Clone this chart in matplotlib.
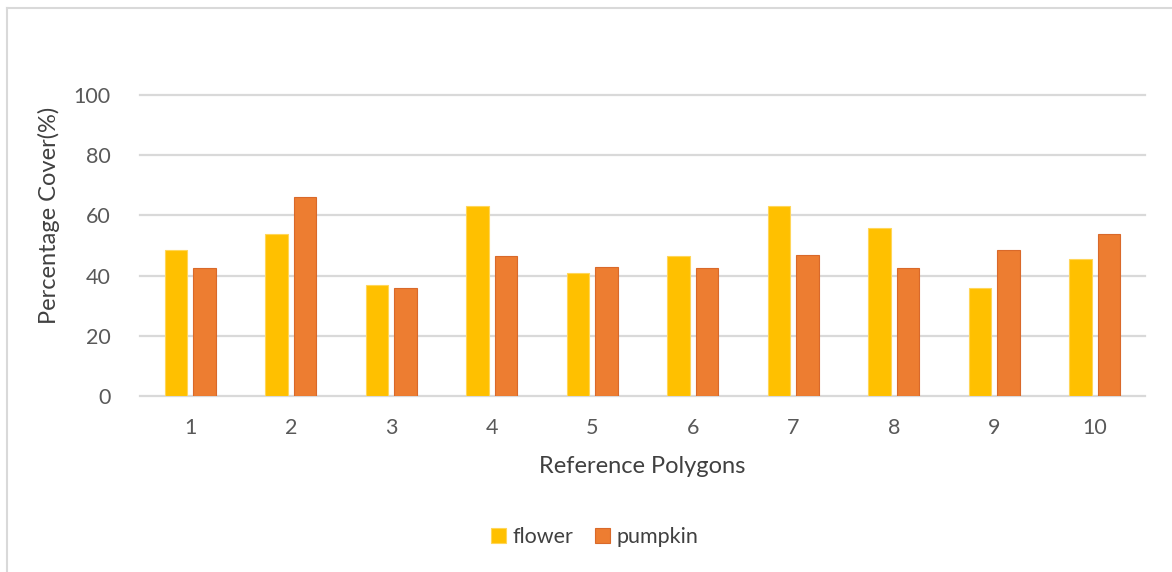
import matplotlib
matplotlib.use("Agg")
import matplotlib.pyplot as plt
from matplotlib.lines import Line2D
import numpy as np

categories = ["1", "2", "3", "4", "5", "6", "7", "8", "9", "10"]
flower = [48.4, 53.7, 37.0, 63.1, 40.8, 46.4, 63.1, 55.8, 35.8, 45.6]
pumpkin = [42.6, 66.1, 35.8, 46.4, 43.0, 42.6, 46.8, 42.6, 48.6, 53.7]
y_ticks = [0, 20, 40, 60, 80, 100]

plt.rcParams["font.family"] = ["Lato", "DejaVu Sans"]
text_color = "#595959"
label_color = "#404040"
grid_color = "#d9d9d9"

fig = plt.figure(figsize=(11.72, 5.72), dpi=100)
ax = fig.add_axes([140 / 1172, 1 - 396 / 572, 1005 / 1172, 301 / 572])

x = np.arange(1, len(categories) + 1)
w = 0.22
off = 0.142
ax.bar(x - off, flower, width=w, color="#FFC000", edgecolor="#ffd659",
       linewidth=0.8, label="flower", zorder=3)
ax.bar(x + off, pumpkin, width=w, color="#ED7D31", edgecolor="#d9692a",
       linewidth=0.8, label="pumpkin", zorder=3)

ax.set_xlim(0.5, len(categories) + 0.5)
ax.set_ylim(0, 100)
ax.set_yticks(y_ticks)
ax.set_xticks(x)
ax.set_xticklabels(categories)
for s in ax.spines.values():
    s.set_visible(False)
ax.yaxis.grid(True, color=grid_color, linewidth=1.6, zorder=0)
for gl in ax.get_ygridlines():
    gl.set_clip_on(False)
ax.tick_params(axis="both", length=0, labelsize=15.5, colors=text_color)
ax.tick_params(axis="y", pad=21)
ax.tick_params(axis="x", pad=16)

ax.set_ylabel("Percentage Cover(%)", fontsize=17, color=label_color)
ax.yaxis.set_label_coords(-0.0796, 0.60)
ax.set_xlabel("Reference Polygons", fontsize=17, color=label_color, labelpad=13)

leg = fig.legend(loc="center", bbox_to_anchor=(595 / 1172, 1 - 537 / 572),
                 ncol=2, frameon=False, fontsize=15.5, handlelength=0.7,
                 handleheight=0.7, handletextpad=0.3, columnspacing=1.0)
for t in leg.get_texts():
    t.set_color(label_color)

# chart-area frame: top and left edges only
fig.add_artist(Line2D([7 / 1172, 1], [1 - 8 / 572, 1 - 8 / 572],
                      transform=fig.transFigure, color="#d9d9d9", linewidth=1.5))
fig.add_artist(Line2D([7 / 1172, 7 / 1172], [0, 1 - 8 / 572],
                      transform=fig.transFigure, color="#d9d9d9", linewidth=1.5))

fig.savefig("out.png", dpi=100)
